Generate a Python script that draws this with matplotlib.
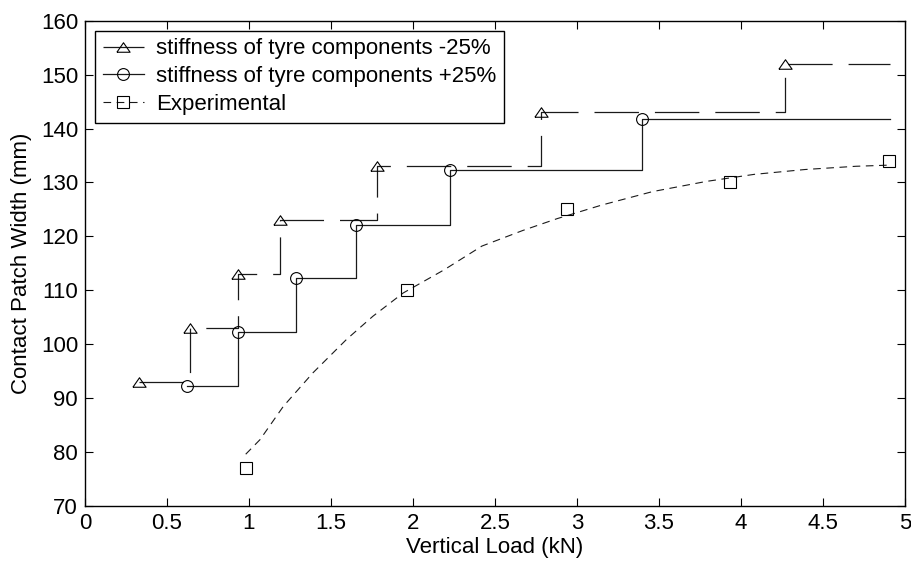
import matplotlib
matplotlib.use("Agg")
import matplotlib.pyplot as plt

plt.rcParams.update({
    'font.family': ['Liberation Sans', 'DejaVu Sans'],
    'font.size': 16,
    'lines.scale_dashes': False,
    'xtick.direction': 'in',
    'ytick.direction': 'in',
    'xtick.top': True,
    'ytick.right': True,
})

# stiffness -25% (triangles)
soft_load = [0.33, 0.64, 0.93, 1.19, 1.78, 2.78, 4.27]
soft_width = [93, 103, 113, 123, 133, 143, 152]

# stiffness +25% (circles)
stiff_load = [0.62, 0.93, 1.285, 1.655, 2.225, 3.395]
stiff_width = [92.3, 102.3, 112.3, 122.2, 132.3, 141.8]

# experimental points (squares)
exp_load = [0.98, 1.965, 2.94, 3.93, 4.9]
exp_width = [77, 110, 125, 130, 134]

fit_load = [0.98, 1.067, 1.21, 1.39, 1.595, 1.756, 1.94, 2.19, 2.42, 2.67,
            2.88, 3.15, 3.46, 3.79, 4.08, 4.39, 4.70, 4.89]
fit_width = [79.6, 82.3, 88.5, 94.7, 100.9, 105.2, 109.5, 113.8, 118.2, 121.1,
             123.3, 125.8, 128.3, 130.2, 131.5, 132.4, 133.0, 133.2]

# the step lines run on to this load
load_end = 4.91

xticks = [0, 0.5, 1, 1.5, 2, 2.5, 3, 3.5, 4, 4.5, 5]
xtick_labels = ['0', '0.5', '1', '1.5', '2', '2.5', '3', '3.5', '4', '4.5', '5']
yticks = list(range(70, 161, 10))

fig = plt.figure(figsize=(9.12, 5.67), dpi=100)
ax = fig.add_axes([0.0932, 0.1076, 0.8991, 0.8559])

# flatter, matlab-like triangle
tri = [(-1, -0.72), (1, -0.72), (0, 0.72), (-1, -0.72)]

ax.plot(soft_load + [load_end], soft_width + [soft_width[-1]],
        drawstyle='steps-post', color='#1a1a1a', lw=0.9, dashes=(32, 11.5),
        marker=tri, ms=9.5, mfc='none', mec='k', mew=0.8,
        markevery=list(range(len(soft_load))),
        label='stiffness of tyre components -25%')

ax.plot(stiff_load + [load_end], stiff_width + [stiff_width[-1]],
        drawstyle='steps-post', color='#1a1a1a', lw=0.9,
        marker='o', ms=8.5, mfc='none', mec='k', mew=0.8,
        markevery=list(range(len(stiff_load))),
        label='stiffness of tyre components +25%')

ax.plot(fit_load, fit_width, color='#1a1a1a', lw=0.8, dashes=(5.5, 4))
ax.plot(exp_load, exp_width, ls='none', marker='s', ms=8.5, mfc='none',
        mec='k', mew=0.8)

# legend entry for the experimental series (dashed line + square)
ax.plot([], [], color='#1a1a1a', lw=0.8, dashes=(5.5, 4), marker='s', ms=8.5,
        mfc='none', mec='k', mew=0.8, label='Experimental')

ax.set_xlim(0, 5)
ax.set_ylim(70, 160)
ax.set_xticks(xticks)
ax.set_xticklabels(xtick_labels)
ax.set_yticks(yticks)
ax.tick_params(length=6, width=0.8, pad=5)
for s in ax.spines.values():
    s.set_linewidth(1.0)

ax.set_xlabel('Vertical Load (kN)', labelpad=2)
ax.set_ylabel('Contact Patch Width (mm)', labelpad=6)

leg = ax.legend(loc='upper left', fancybox=False, framealpha=1, edgecolor='k',
                handlelength=1.85, handletextpad=0.55, labelspacing=0.3,
                borderaxespad=0.45, borderpad=0.35)
leg.get_frame().set_linewidth(1.0)

plt.savefig('out.png', dpi=100)
